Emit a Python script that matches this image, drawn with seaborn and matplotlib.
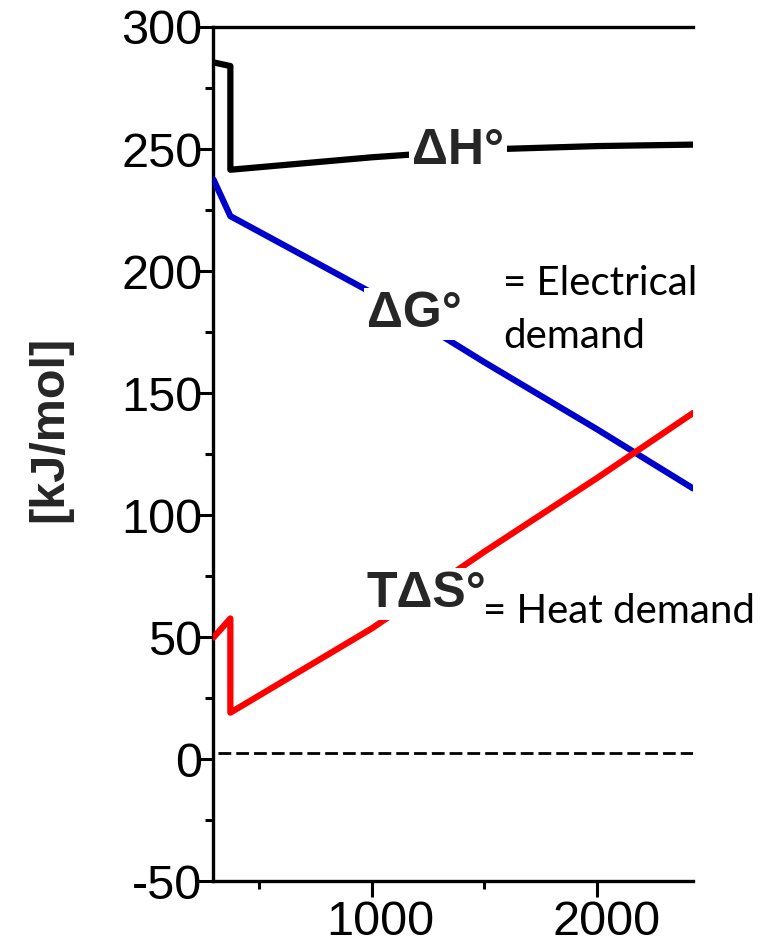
import matplotlib
matplotlib.use("Agg")
import matplotlib.pyplot as plt
import matplotlib.transforms as mtransforms
import numpy as np
import pandas as pd
import seaborn as sns

# Temperature (K); 373 K appears twice for the liquid -> vapour step
temperature = [298, 373, 373, 1000, 1500, 2000, 2425]
dH = [285.5, 284.0, 241.5, 246.6, 249.8, 251.2, 251.8]
dG = [237.5, 222.5, 222.5, 191.1, 162.6, 135.1, 110.9]
TdS = [49.8, 57.6, 19.0, 53.5, 85.0, 115.2, 141.8]

zero_T = [318, 2425]
zero_val = [2.5, 2.5]

x_major = [1000, 2000]
x_minor = [500, 1500]
y_major = [-50, 0, 50, 100, 150, 200, 250, 300]
y_minor = [-25, 25, 75, 125, 175, 225, 275]

sns.set_style("ticks")
plt.rcParams["font.family"] = ["Liberation Sans", "DejaVu Sans"]

fig = plt.figure(figsize=(7.64, 9.44), dpi=100)
ax = fig.add_axes([0.2788, 0.0667, 0.628, 0.9047])

df_h = pd.DataFrame({"T": temperature, "v": dH})
df_g = pd.DataFrame({"T": temperature, "v": dG})
df_s = pd.DataFrame({"T": temperature, "v": TdS})

lw = 4.5
sns.lineplot(data=df_h, x="T", y="v", ax=ax, color="#000000", lw=lw,
             estimator=None, sort=False, zorder=3)
sns.lineplot(data=df_g, x="T", y="v", ax=ax, color="#0000CC", lw=lw,
             estimator=None, sort=False, zorder=3)
sns.lineplot(data=df_s, x="T", y="v", ax=ax, color="#FF0000", lw=lw,
             estimator=None, sort=False, zorder=3)
ax.plot(zero_T, zero_val, color="black", lw=2.0, ls=(0, (4.6, 1.8)), zorder=2)

ax.set_xlim(296, 2424)
ax.set_ylim(-50, 300)
ax.set_xticks(x_major)
ax.set_xticks(x_minor, minor=True)
ax.set_yticks(y_major)
ax.set_yticks(y_minor, minor=True)
ax.set_xticklabels([str(v) for v in x_major])
ax.set_yticklabels([str(v) for v in y_major])

for side in ["left", "bottom", "top"]:
    ax.spines[side].set_linewidth(2.4)
    ax.spines[side].set_color("black")
ax.spines["right"].set_visible(False)

ax.tick_params(axis="both", which="major", direction="out", length=11.5,
               width=2.2, color="black", labelsize=35, labelcolor="black")
ax.tick_params(axis="both", which="minor", direction="out", length=5.5,
               width=2.2, color="black")
ax.tick_params(axis="x", which="major", pad=2)
ax.tick_params(axis="y", which="major", pad=-4)
ax.tick_params(top=False, right=False, which="both")

shift = mtransforms.ScaledTranslation(0.09, 0, fig.dpi_scale_trans)
for lab in ax.get_xticklabels():
    lab.set_transform(lab.get_transform() + shift)

ax.set_xlabel("")
ax.set_ylabel("[kJ/mol]", fontsize=35, fontweight="bold", va="center")
ax.yaxis.set_label_coords(-0.34, 0.53)

box = dict(facecolor="white", edgecolor="none", pad=2)
lab_kw = dict(fontsize=36, fontweight="bold", ha="left", va="baseline",
              zorder=5, bbox=box)
ax.text(1178, 243.9, "ΔH°", **lab_kw)
ax.text(979, 177.2, "ΔG°", **lab_kw)
ax.text(979, 62.1, "TΔS°", **lab_kw)

note_kw = dict(fontsize=29, family=["Lato", "DejaVu Sans"], ha="left",
               va="baseline", color="black", zorder=6)
ax.text(1582, 190.1, "= Electrical", **note_kw)
ax.text(1582, 168.4, "demand", **note_kw)
ax.text(1493, 55.9, "= Heat demand", **note_kw)

fig.savefig("out.png", dpi=100)
